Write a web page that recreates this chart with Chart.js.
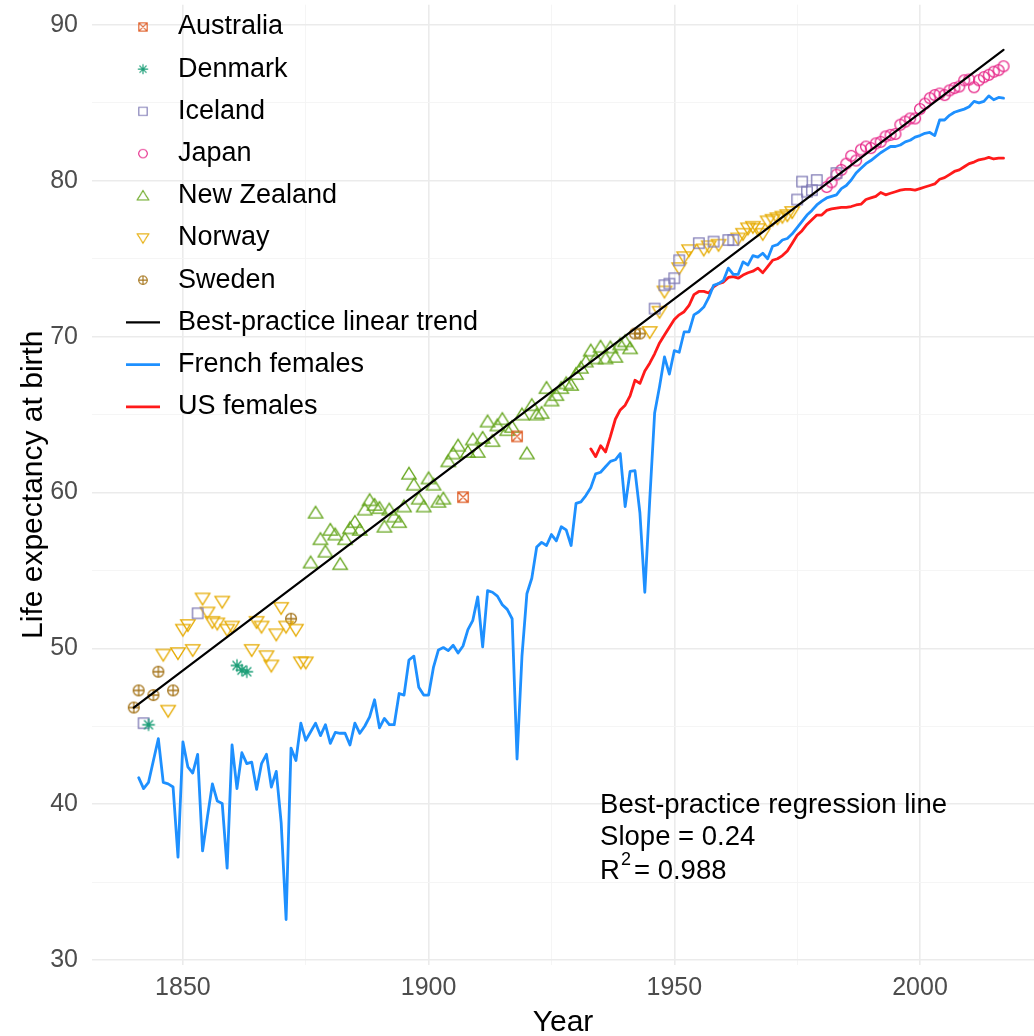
<!DOCTYPE html>
<html>
<head>
<meta charset="utf-8">
<script src="https://cdn.jsdelivr.net/npm/chart.js@4.4.0/dist/chart.umd.min.js"></script>
<style>
  html, body { margin: 0; padding: 0; background: #fff; }
  #wrap { width: 1034px; height: 1036px; }
</style>
</head>
<body>
<div id="wrap"><canvas id="le"></canvas></div>
<script>
// best-practice female life expectancy

var australiaYears = [1907, 1918];
var australiaLE = [59.7, 63.6];

var denmarkYears = [1843, 1861, 1862, 1863];
var denmarkLE = [45.1, 48.9, 48.6, 48.5];

var icelandYears = [1842, 1853, 1946, 1948, 1949, 1950, 1951, 1955, 1958, 1961, 1962, 1975, 1976, 1977, 1978, 1979, 1983];
var icelandLE = [45.2, 52.25, 71.8, 73.3, 73.4, 73.75, 74.9, 76.0, 76.1, 76.2, 76.2, 78.8, 79.95, 79.3, 79.4, 80.05, 80.5];

var japanYears = [1981, 1982, 1983, 1984, 1985, 1986, 1987, 1988, 1989, 1990, 1991, 1992, 1993, 1994, 1995, 1996, 1997, 1998, 1999,
  2000, 2001, 2002, 2003, 2004, 2005, 2006, 2007, 2008, 2009, 2010, 2011, 2012, 2013, 2014, 2015, 2016, 2017];
var japanLE = [79.6, 79.9, 80.4, 80.7, 81.1, 81.6, 81.3, 82.0, 82.2, 82.1, 82.4, 82.5, 82.85, 82.95, 83.0, 83.6, 83.8, 84.0, 84.0,
  84.6, 84.95, 85.3, 85.5, 85.6, 85.5, 85.8, 85.95, 86.05, 86.45, 86.5, 86.0, 86.45, 86.65, 86.8, 87.0, 87.1, 87.35];

var nzYears = [1876, 1877, 1878, 1879, 1880, 1881, 1882, 1883, 1884, 1885, 1886, 1887, 1888, 1889, 1890,
  1891, 1892, 1893, 1894, 1895, 1896, 1897, 1898, 1899, 1900, 1901, 1902, 1903, 1904, 1905, 1906,
  1908, 1909, 1910, 1911, 1912, 1913, 1914, 1915, 1916, 1917, 1919, 1920, 1921, 1922, 1923, 1924, 1925,
  1926, 1927, 1928, 1929, 1930, 1931, 1932, 1933, 1934, 1935, 1936, 1937, 1938, 1939, 1940, 1941];
var nzLE = [55.5, 58.7, 57.0, 56.2, 57.6, 57.3, 55.4, 57.0, 57.7, 58.1, 57.6, 58.9, 59.5, 59.2, 59.0,
  57.8, 58.9, 58.45, 58.1, 59.1, 61.2, 60.5, 59.6, 59.1, 60.9, 60.5, 59.4, 59.6, 62.0, 62.5, 63.0,
  62.6, 63.4, 62.6, 63.5, 64.55, 63.3, 64.3, 64.7, 64.0, 64.2, 65.0, 62.5, 65.6, 65.0, 65.1, 66.7, 65.9,
  66.25, 66.7, 67.0, 66.9, 67.6, 68.0, 68.4, 69.1, 68.6, 69.35, 68.6, 69.3, 68.7, 69.5, 69.7, 69.25];

var norwayYears = [1846, 1847, 1849, 1850, 1851, 1852, 1854, 1855, 1856, 1857, 1858, 1859, 1860, 1864, 1865, 1866,
  1867, 1868, 1869, 1870, 1871, 1873, 1874, 1875, 1945, 1947, 1948, 1951, 1952, 1953, 1956, 1957, 1959,
  1963, 1964, 1965, 1966, 1967, 1968, 1969, 1970, 1971, 1972, 1973, 1974];
var norwayLE = [49.6, 46.0, 49.7, 51.2, 51.5, 49.9, 53.2, 52.3, 51.7, 51.6, 53.0, 51.2, 51.4, 49.9, 51.7, 51.4,
  49.5, 48.9, 50.9, 52.6, 51.4, 51.2, 49.1, 49.1, 70.3, 71.6, 72.9, 74.4, 75.1, 75.55, 75.6, 75.8, 75.9,
  76.3, 76.6, 76.95, 77.05, 76.9, 76.6, 77.4, 77.5, 77.6, 77.7, 77.8, 78.0];

var swedenYears = [1840, 1841, 1844, 1845, 1848, 1872, 1942, 1943];
var swedenLE = [46.2, 47.3, 47.0, 48.5, 47.3, 51.9, 70.2, 70.2];

// regression line end points
var trendYears = [1840, 2017];
var trendLE = [46.2, 88.4];

// French females 1841-2017
var frYears = [];
for (var y = 1841; y <= 2017; y++) frYears.push(y);
var frLE = [41.7, 41.0, 41.4, 42.8, 44.2, 41.4, 41.3, 41.1, 36.6,
  44.0, 42.4, 42.0, 43.2, 37.0, 39.2, 41.3, 40.2, 40.05, 35.9,
  43.8, 41.0, 43.3, 42.6, 42.7, 40.95, 42.6, 43.2, 41.1, 42.1,
  38.8, 32.6, 43.6, 42.8, 45.2, 44.1, 44.65, 45.2, 44.4, 45.1,
  43.9, 44.6, 44.55, 44.55, 43.8, 45.2, 44.55, 45.0, 45.6, 46.7,
  44.9, 45.5, 45.1, 45.1, 47.1, 47.0, 49.25, 49.5, 47.5, 47.0,
  47.0, 48.8, 49.9, 50.05, 49.85, 50.2, 49.7, 50.15, 51.2, 51.8,
  53.3, 50.1, 53.7, 53.6, 53.35, 52.8, 52.5, 51.9, 42.9, 49.5,
  53.5, 54.5, 56.5, 56.8, 56.6, 57.3, 56.9, 57.8, 57.6, 56.6,
  59.3, 59.4, 59.8, 60.3, 61.2, 61.3, 61.65, 62.0, 62.1, 62.5,
  59.1, 61.35, 61.4, 58.7, 53.6, 59.5, 65.1, 66.8, 68.7, 67.6,
  69.1, 69.0, 70.3, 70.3, 71.4, 71.6, 71.9, 72.5, 73.3, 73.4,
  73.6, 74.4, 74.0, 74.0, 74.8, 74.6, 75.2, 75.1, 75.35, 75.0,
  75.8, 75.9, 76.2, 76.3, 76.6, 77.0, 77.4, 77.8, 78.1, 78.45,
  78.7, 78.9, 79.0, 79.1, 79.5, 79.7, 80.05, 80.5, 80.8, 81.1,
  81.3, 81.55, 81.8, 82.0, 82.2, 82.2, 82.3, 82.5, 82.6, 82.8,
  82.9, 83.05, 83.1, 82.9, 83.9, 83.9, 84.2, 84.4, 84.5, 84.6,
  84.75, 85.1, 85.0, 85.1, 85.45, 85.2, 85.35, 85.3];

// US females 1933-2017
var usYears = [];
for (var y2 = 1933; y2 <= 2017; y2++) usYears.push(y2);
var usLE = [62.8, 62.3, 63.0, 62.6, 63.6, 64.7, 65.3,
  65.6, 66.2, 67.2, 67.0, 67.8, 68.3, 68.9, 69.6, 70.1, 70.6,
  71.1, 71.4, 71.6, 72.0, 72.7, 72.9, 72.9, 72.8, 73.2, 73.4,
  73.5, 73.8, 73.85, 73.75, 73.95, 74.1, 74.2, 74.4, 74.1, 74.5,
  74.9, 75.0, 75.2, 75.5, 76.0, 76.5, 76.8, 77.2, 77.5, 77.8,
  77.8, 78.1, 78.2, 78.25, 78.3, 78.3, 78.35, 78.45, 78.5, 78.8,
  78.9, 79.0, 79.25, 79.1, 79.2, 79.3, 79.4, 79.45, 79.45, 79.4,
  79.5, 79.6, 79.7, 79.8, 80.1, 80.2, 80.4, 80.6, 80.7, 80.9,
  81.1, 81.2, 81.35, 81.4, 81.5, 81.4, 81.45, 81.45];

var xTickValues = [1850, 1875, 1900, 1925, 1950, 1975, 2000];
var yTickValues = [30, 35, 40, 45, 50, 55, 60, 65, 70, 75, 80, 85, 90];

var FONT = '"Liberation Sans", Arial, sans-serif';

function pts(xs, ys) {
  return xs.map(function (x, i) { return { x: x, y: ys[i] }; });
}

// little canvases used as point styles (ggplot shapes)
function marker(kind, color) {
  var c = document.createElement('canvas');
  c.width = 20; c.height = 20;
  var g = c.getContext('2d');
  g.strokeStyle = color;
  g.lineWidth = 1.3;
  var m = 10, h = 5.2;
  g.beginPath();
  if (kind == 'square' || kind == 'squareX') {
    g.rect(m - h, m - h, 2 * h, 2 * h);
    if (kind == 'squareX') {
      g.moveTo(m - h, m - h); g.lineTo(m + h, m + h);
      g.moveTo(m + h, m - h); g.lineTo(m - h, m + h);
    }
  } else if (kind == 'circle' || kind == 'circlePlus') {
    g.arc(m, m, 5.4, 0, Math.PI * 2);
    if (kind == 'circlePlus') {
      g.moveTo(m - 5.4, m); g.lineTo(m + 5.4, m);
      g.moveTo(m, m - 5.4); g.lineTo(m, m + 5.4);
    }
  } else if (kind == 'tri') {
    g.moveTo(m, m - 6.4); g.lineTo(m + 7.2, m + 5.2); g.lineTo(m - 7.2, m + 5.2); g.closePath();
  } else if (kind == 'triDown') {
    g.moveTo(m, m + 6.4); g.lineTo(m + 7.2, m - 5.2); g.lineTo(m - 7.2, m - 5.2); g.closePath();
  } else if (kind == 'star') {
    for (var a = 0; a < 4; a++) {
      var t = a * Math.PI / 4;
      g.moveTo(m - 6.3 * Math.cos(t), m - 6.3 * Math.sin(t));
      g.lineTo(m + 6.3 * Math.cos(t), m + 6.3 * Math.sin(t));
    }
  }
  g.stroke();
  return c;
}

var mkAus = marker('squareX', '#e0602a');
var mkDen = marker('star', '#1b9e77');
var mkIce = marker('square', '#7f7ab5');
var mkJap = marker('circle', '#e7298a');
var mkNz = marker('tri', '#66a61e');
var mkNor = marker('triDown', '#e6ab02');
var mkSwe = marker('circlePlus', '#a6761d');

function markerSet(label, xs, ys, img) {
  return { label: label, data: pts(xs, ys), pointStyle: img, pointRadius: 8, showLine: false,
    borderColor: 'rgba(0,0,0,0)', backgroundColor: 'rgba(0,0,0,0)' };
}
function lineSet(label, xs, ys, color, w) {
  return { label: label, data: pts(xs, ys), showLine: true, pointRadius: 0, borderColor: color,
    borderWidth: w, fill: false, tension: 0, borderJoinStyle: 'round', borderCapStyle: 'round' };
}

// legend drawn inside the plot, top left
var legendItems = [
  { text: 'Australia', img: mkAus }, { text: 'Denmark', img: mkDen }, { text: 'Iceland', img: mkIce },
  { text: 'Japan', img: mkJap }, { text: 'New Zealand', img: mkNz }, { text: 'Norway', img: mkNor },
  { text: 'Sweden', img: mkSwe },
  { text: 'Best-practice linear trend', line: '#000000', w: 2.2 },
  { text: 'French females', line: '#1e90ff', w: 2.8 },
  { text: 'US females', line: '#ff1a1a', w: 2.8 }
];

var insideLegend = {
  id: 'insideLegend',
  afterDraw: function (chart) {
    var ctx = chart.ctx;
    ctx.save();
    ctx.font = '27px ' + FONT;
    ctx.fillStyle = '#000';
    ctx.textBaseline = 'middle';
    legendItems.forEach(function (it, i) {
      var yc = 27 + i * 42.2;
      if (it.img) {
        ctx.drawImage(it.img, 143 - 8, yc - 8, 16, 16);
      } else {
        ctx.strokeStyle = it.line; ctx.lineWidth = it.w;
        ctx.beginPath(); ctx.moveTo(126, yc); ctx.lineTo(160, yc); ctx.stroke();
      }
      ctx.fillText(it.text, 178, yc);
    });
    ctx.restore();
  }
};

// regression note, anchored in data units
var note = {
  id: 'note',
  afterDraw: function (chart) {
    var ctx = chart.ctx, xs = chart.scales.x, ys = chart.scales.y;
    var x0 = xs.getPixelForValue(1934.9);
    ctx.save();
    ctx.fillStyle = '#000';
    ctx.textBaseline = 'middle';
    ctx.font = '27.5px ' + FONT;
    ctx.fillText('Best-practice regression line', x0, ys.getPixelForValue(39.9));
    ctx.fillText('Slope = 0.24', x0, ys.getPixelForValue(37.85));
    var y3 = ys.getPixelForValue(35.7);
    ctx.fillText('R', x0, y3);
    var rw = ctx.measureText('R').width;
    ctx.font = '18px ' + FONT;
    ctx.fillText('2', x0 + rw + 1, y3 - 11);
    ctx.font = '27.5px ' + FONT;
    ctx.fillText('= 0.988', x0 + rw + 14, y3);
    ctx.restore();
  }
};

var ctx = document.getElementById('le').getContext('2d');
var chart = new Chart(ctx, {
  type: 'scatter',
  data: {
    datasets: [
      lineSet('Best-practice linear trend', trendYears, trendLE, '#000000', 2.2),
      lineSet('French females', frYears, frLE, '#1e90ff', 2.8),
      lineSet('US females', usYears, usLE, '#ff1a1a', 2.8),
      markerSet('Australia', australiaYears, australiaLE, mkAus),
      markerSet('Denmark', denmarkYears, denmarkLE, mkDen),
      markerSet('Iceland', icelandYears, icelandLE, mkIce),
      markerSet('Japan', japanYears, japanLE, mkJap),
      markerSet('New Zealand', nzYears, nzLE, mkNz),
      markerSet('Norway', norwayYears, norwayLE, mkNor),
      markerSet('Sweden', swedenYears, swedenLE, mkSwe)
    ]
  },
  options: {
    responsive: true,
    maintainAspectRatio: false,
    animation: false,
    devicePixelRatio: 1,
    layout: { autoPadding: false, padding: { top: 4.7, left: 0, right: 0, bottom: 0 } },
    plugins: { legend: { display: false }, tooltip: { enabled: false } },
    scales: {
      x: {
        type: 'linear', min: 1831.5, max: 2023.2,
        afterBuildTicks: function (s) { s.ticks = xTickValues.map(function (v) { return { value: v }; }); },
        afterFit: function (s) { s.height = 71.3; s.paddingLeft = 0; s.paddingRight = 0; },
        ticks: { autoSkip: false, maxRotation: 0, padding: 8, color: '#4d4d4d', font: { family: FONT, size: 25 },
          callback: function (v) { return v % 50 === 0 ? String(v) : ''; } },
        grid: { drawTicks: false,
          color: function (c) { return c.tick && c.tick.value % 50 === 0 ? '#ebebeb' : '#f4f4f4'; },
          lineWidth: function (c) { return c.tick && c.tick.value % 50 === 0 ? 1.6 : 0.9; } },
        border: { display: false },
        title: { display: true, text: 'Year', color: '#000', font: { family: FONT, size: 30 }, padding: { top: 0, bottom: -5 } }
      },
      y: {
        min: 29.7, max: 91.3,
        afterBuildTicks: function (s) { s.ticks = yTickValues.map(function (v) { return { value: v }; }); },
        afterFit: function (s) { s.width = 92; s.paddingTop = 0; s.paddingBottom = 0; },
        ticks: { autoSkip: false, padding: 14, color: '#4d4d4d', font: { family: FONT, size: 25 },
          callback: function (v) { return v % 10 === 0 ? String(v) : ''; } },
        grid: { drawTicks: false,
          color: function (c) { return c.tick && c.tick.value % 10 === 0 ? '#ebebeb' : '#f4f4f4'; },
          lineWidth: function (c) { return c.tick && c.tick.value % 10 === 0 ? 1.6 : 0.9; } },
        border: { display: false },
        title: { display: true, text: 'Life expectancy at birth', color: '#000', font: { family: FONT, size: 30 }, padding: { top: 16, bottom: 0 } }
      }
    }
  },
  plugins: [insideLegend, note]
});
</script>
</body>
</html>
